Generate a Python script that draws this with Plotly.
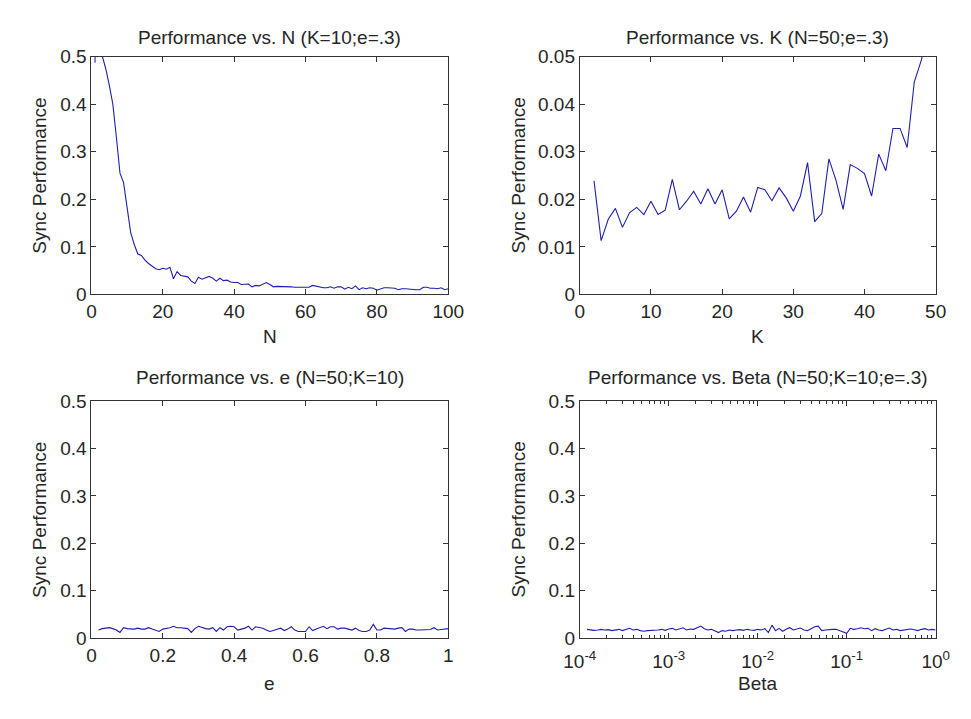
import numpy as np
import plotly.graph_objects as go

# ---------------- data ----------------
n_perf = [0.487, 1.0, 0.502, 0.475, 0.44, 0.40, 0.33, 0.255, 0.235, 0.18,
          0.13, 0.105, 0.085, 0.082, 0.072, 0.065, 0.059, 0.054, 0.052, 0.055,
          0.053, 0.057, 0.033, 0.048, 0.040, 0.039, 0.037, 0.028, 0.023, 0.036,
          0.032, 0.035, 0.038, 0.034, 0.028, 0.034, 0.029, 0.030, 0.026, 0.025,
          0.025, 0.021, 0.022, 0.022, 0.016, 0.019, 0.018, 0.022, 0.025, 0.021,
          0.016, 0.017, 0.017, 0.017, 0.016, 0.016, 0.015, 0.015, 0.015, 0.015,
          0.015, 0.019, 0.017, 0.016, 0.014, 0.014, 0.016, 0.013, 0.016, 0.016,
          0.011, 0.015, 0.012, 0.018, 0.010, 0.014, 0.012, 0.014, 0.013, 0.009,
          0.011, 0.014, 0.014, 0.013, 0.013, 0.010, 0.012, 0.012, 0.011, 0.010,
          0.010, 0.010, 0.015, 0.015, 0.013, 0.013, 0.012, 0.014, 0.010, 0.012]
n_vals = list(range(1, len(n_perf) + 1))

k_vals = list(range(2, 50))
k_perf = [0.0239, 0.0113, 0.0158, 0.0181, 0.0141, 0.0172, 0.0183, 0.0168, 0.0196, 0.0168,
          0.0177, 0.0242, 0.0178, 0.0196, 0.0217, 0.0190, 0.0222, 0.0190, 0.0220, 0.0159,
          0.0175, 0.0205, 0.0173, 0.0225, 0.0220, 0.0197, 0.0224, 0.0203, 0.0175, 0.0207,
          0.0277, 0.0153, 0.0170, 0.0285, 0.0240, 0.0179, 0.0273, 0.0265, 0.0254, 0.0207,
          0.0295, 0.0260, 0.0349, 0.0349, 0.0309, 0.0447, 0.0493, 0.0560]

e_perf = [0.017, 0.020, 0.021, 0.022, 0.020, 0.017, 0.012, 0.022, 0.020, 0.019,
          0.019, 0.021, 0.019, 0.019, 0.022, 0.019, 0.017, 0.014, 0.019, 0.020,
          0.022, 0.025, 0.022, 0.022, 0.021, 0.020, 0.012, 0.020, 0.025, 0.022,
          0.020, 0.019, 0.022, 0.014, 0.022, 0.017, 0.024, 0.025, 0.024, 0.017,
          0.019, 0.021, 0.025, 0.017, 0.024, 0.022, 0.021, 0.017, 0.014, 0.016,
          0.019, 0.021, 0.016, 0.019, 0.024, 0.017, 0.014, 0.014, 0.014, 0.024,
          0.016, 0.019, 0.022, 0.025, 0.020, 0.024, 0.024, 0.019, 0.021, 0.021,
          0.019, 0.017, 0.021, 0.016, 0.014, 0.014, 0.017, 0.029, 0.017, 0.017,
          0.021, 0.020, 0.019, 0.019, 0.021, 0.022, 0.014, 0.019, 0.019, 0.017,
          0.017, 0.017, 0.017, 0.018, 0.022, 0.017, 0.018, 0.019, 0.020]
e_vals = [round(0.02 + 0.01 * i, 2) for i in range(len(e_perf))]

beta_perf = [0.0185, 0.0171, 0.0164, 0.0171, 0.0185, 0.0171, 0.0178, 0.0158, 0.0171, 0.0185,
             0.0158, 0.0178, 0.0206, 0.0171, 0.0185, 0.0158, 0.0144, 0.0158, 0.0158, 0.0171,
             0.0171, 0.0185, 0.0164, 0.0192, 0.0206, 0.0171, 0.0199, 0.0219, 0.0171, 0.0192,
             0.0185, 0.0226, 0.0253, 0.0199, 0.0171, 0.0185, 0.0144, 0.0117, 0.0158, 0.0144,
             0.0171, 0.0158, 0.0171, 0.0178, 0.0164, 0.0185, 0.0171, 0.0164, 0.0185, 0.0171,
             0.0199, 0.0117, 0.0274, 0.0158, 0.0206, 0.0144, 0.0185, 0.0219, 0.0171, 0.0199,
             0.0212, 0.0171, 0.0158, 0.0199, 0.0240, 0.0253, 0.0158, 0.0171, 0.0185, 0.0185,
             0.0185, 0.0158, 0.0144, 0.0103, 0.0206, 0.0185, 0.0199, 0.0219, 0.0199, 0.0206,
             0.0158, 0.0199, 0.0171, 0.0158, 0.0185, 0.0212, 0.0171, 0.0185, 0.0158, 0.0171,
             0.0185, 0.0192, 0.0178, 0.0158, 0.0185, 0.0199, 0.0171, 0.0185, 0.0171]
beta_vals = list(np.logspace(-3.92, 0, len(beta_perf)))

titles = ["Performance vs. N (K=10;e=.3)", "Performance vs. K (N=50;e=.3)",
          "Performance vs. e (N=50;K=10)", "Performance vs. Beta (N=50;K=10;e=.3)"]
xlabels = ["N", "K", "e", "Beta"]
ylabel = "Sync Performance"

# ---------------- figure ----------------
W, H = 971, 719
LINE = "rgb(30,30,175)"
FONT = "Arial, Liberation Sans, sans-serif"
TXT = "#262626"
FS = 19
TICK_FONT = dict(family=FONT, size=FS, color=TXT)

def px_x(p):
    return p / W

def px_y(p):
    return 1 - p / H

dom_x = [[px_x(78), px_x(447)], [px_x(583), px_x(951)]]
dom_y = [[px_y(293), px_y(48)], [px_y(647), px_y(403)]]

fig = go.Figure()
series = [(n_vals, n_perf), (k_vals, k_perf), (e_vals, e_perf), (beta_vals, beta_perf)]
for i, (xs, ys) in enumerate(series):
    suffix = "" if i == 0 else str(i + 1)
    fig.add_trace(go.Scatter(x=xs, y=ys, mode="lines",
                             line=dict(color=LINE, width=1.1),
                             xaxis="x" + suffix, yaxis="y" + suffix,
                             showlegend=False, hoverinfo="skip"))

axis_common = dict(showline=True, linecolor="#333", linewidth=1, mirror="allticks",
                   ticks="inside", ticklen=5, tickcolor="#333", showgrid=False,
                   zeroline=False, tickfont=TICK_FONT)

layout = dict(width=W, height=H, margin=dict(l=0, r=0, t=0, b=0),
              paper_bgcolor="white", plot_bgcolor="white", showlegend=False)

minor_log = [m * 10.0 ** p for p in range(-4, 0) for m in range(2, 10)]

x_specs = [
    dict(range=[0, 100], tickvals=[0, 20, 40, 60, 80, 100]),
    dict(range=[0, 50], tickvals=[0, 10, 20, 30, 40, 50]),
    dict(range=[0, 1], tickvals=[0, 0.2, 0.4, 0.6, 0.8, 1]),
    dict(type="log", range=[-4, 0], tickvals=[1e-4, 1e-3, 1e-2, 1e-1, 1],
         ticktext=["10<sup>-4</sup>", "10<sup>-3</sup>", "10<sup>-2</sup>", "10<sup>-1</sup>", "10<sup>0</sup>"],
         ticklabelstandoff=6,
         minor=dict(ticks="inside", ticklen=3, tickcolor="#333", showgrid=False,
                    tickmode="array", tickvals=minor_log)),
]
y_specs = [
    dict(range=[0, 0.5], tickvals=[0, 0.1, 0.2, 0.3, 0.4, 0.5]),
    dict(range=[0, 0.05], tickvals=[0, 0.01, 0.02, 0.03, 0.04, 0.05]),
    dict(range=[0, 0.5], tickvals=[0, 0.1, 0.2, 0.3, 0.4, 0.5]),
    dict(range=[0, 0.5], tickvals=[0, 0.1, 0.2, 0.3, 0.4, 0.5]),
]

annotations = []
for i in range(4):
    col, row = i % 2, i // 2
    suffix = "" if i == 0 else str(i + 1)
    xa = dict(axis_common, domain=dom_x[col], anchor="y" + suffix, **x_specs[i])
    ya = dict(axis_common, domain=dom_y[row], anchor="x" + suffix, **y_specs[i])
    layout["xaxis" + suffix] = xa
    layout["yaxis" + suffix] = ya
    xc = (dom_x[col][0] + dom_x[col][1]) / 2
    yc = (dom_y[row][0] + dom_y[row][1]) / 2
    title_y = px_y(28) if row == 0 else px_y(379)
    xlab_y = px_y(336) if row == 0 else px_y(694)
    ylab_x = px_x(24) if col == 0 else px_x(520)
    annotations.append(dict(text=titles[i], x=xc, y=title_y, xref="paper", yref="paper",
                            showarrow=False, xanchor="center", yanchor="middle",
                            font=dict(family=FONT, size=FS, color=TXT)))
    annotations.append(dict(text=xlabels[i], x=xc, y=xlab_y, xref="paper", yref="paper",
                            showarrow=False, xanchor="center", yanchor="middle",
                            font=dict(family=FONT, size=FS, color=TXT)))
    annotations.append(dict(text=ylabel, x=ylab_x, y=yc, xref="paper", yref="paper",
                            showarrow=False, xanchor="center", yanchor="middle", textangle=-90,
                            font=dict(family=FONT, size=FS, color=TXT)))

layout["annotations"] = annotations
fig.update_layout(**layout)
fig.write_html("out.html")
